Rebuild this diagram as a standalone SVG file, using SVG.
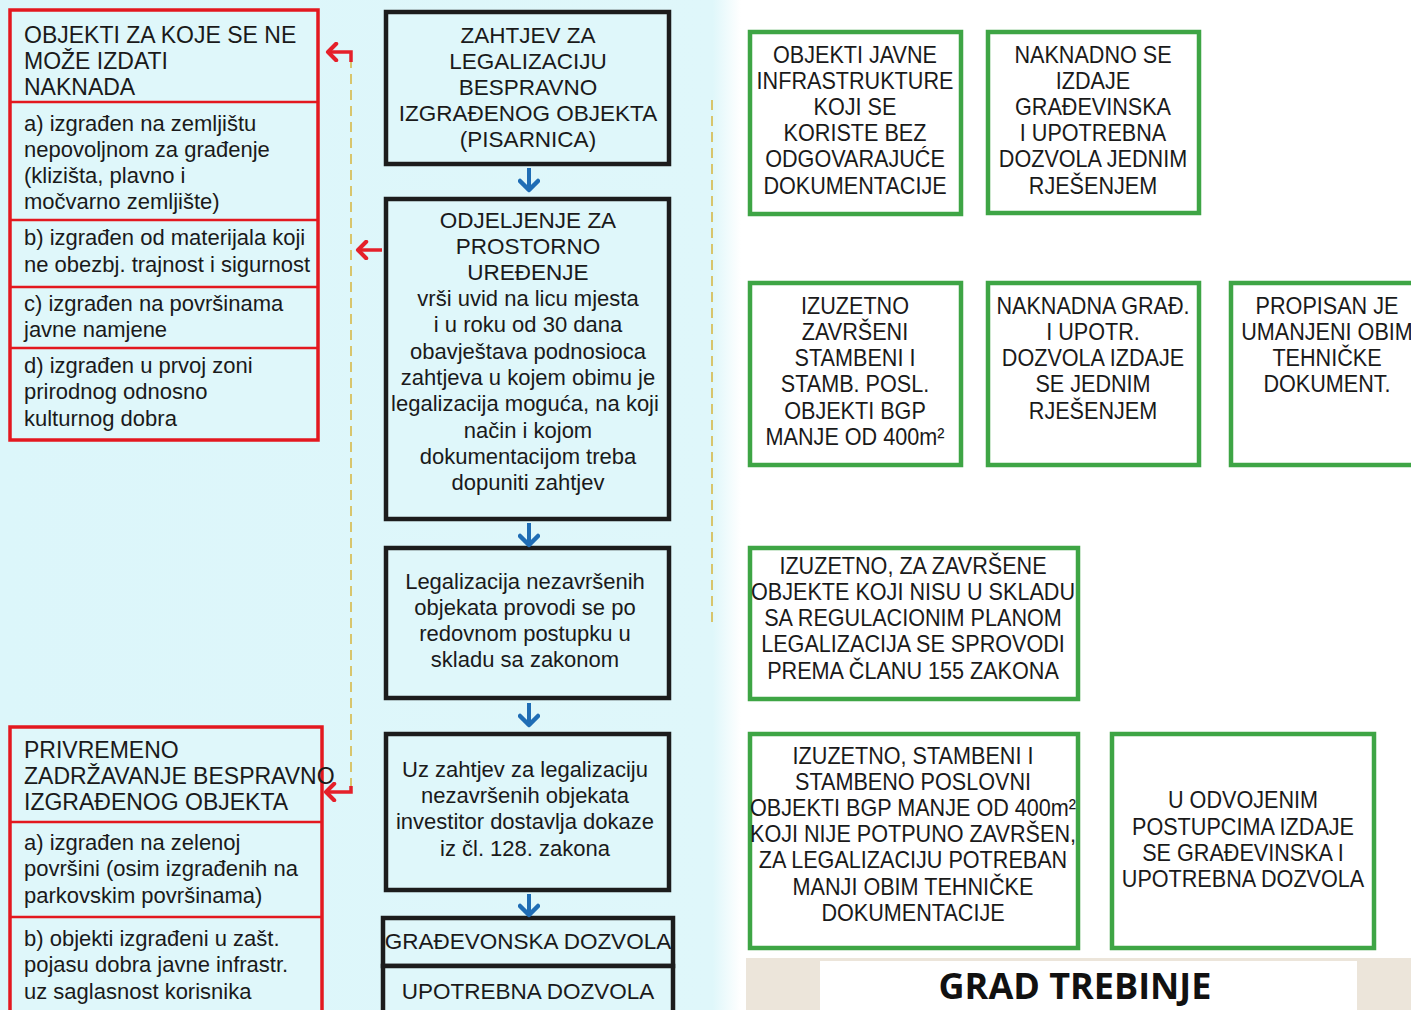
<svg xmlns="http://www.w3.org/2000/svg" width="1411" height="1010" viewBox="0 0 1411 1010">
<defs>
<linearGradient id="bgGrad" x1="0" y1="0" x2="1411" y2="0" gradientUnits="userSpaceOnUse">
<stop offset="0" stop-color="#dcf6fa"/>
<stop offset="0.505" stop-color="#dff7fa"/>
<stop offset="0.525" stop-color="#ffffff"/>
<stop offset="1" stop-color="#ffffff"/>
</linearGradient>
<marker id="blueHead" viewBox="0 0 22 22" refX="19" refY="11" markerWidth="22" markerHeight="22" markerUnits="userSpaceOnUse" orient="auto">
<path d="M10,2 L19,11 L10,20" fill="none" stroke="#1f6db5" stroke-width="4.5" stroke-linecap="round" stroke-linejoin="round"/>
</marker>
<marker id="redHead" viewBox="0 0 22 22" refX="19" refY="11" markerWidth="20" markerHeight="20" markerUnits="userSpaceOnUse" orient="auto">
<path d="M10,2 L19,11 L10,20" fill="none" stroke="#e5202a" stroke-width="4.5" stroke-linecap="round" stroke-linejoin="round"/>
</marker>
</defs>
<style>
.t{font-family:"Liberation Sans",Arial,sans-serif;font-size:22px;fill:#1a1a1a}
.c{text-anchor:middle}
.rbox{fill:#dff7fa;stroke:#e3181f;stroke-width:3.5}
.rdiv{stroke:#e3181f;stroke-width:2.5}
.bbox{fill:#dff7fa;stroke:#1c1c1c;stroke-width:4.5}
.gbox{fill:#ffffff;stroke:#3ea545;stroke-width:4.5}
.gt{font-family:"Liberation Sans",Arial,sans-serif;font-size:24px;fill:#1a1a1a;text-anchor:middle}
.blue{stroke:#1f6db5;stroke-width:4;fill:none;marker-end:url(#blueHead)}
.red{stroke:#e5202a;stroke-width:3.5;fill:none;marker-end:url(#redHead)}
.dash{stroke:#d8c56c;stroke-width:2;stroke-dasharray:10 6;fill:none}
</style>

<rect x="0" y="0" width="1411" height="1010" fill="url(#bgGrad)"/>

<!-- Left top red box -->
<g id="node-objekti-ne-moze">
<rect class="rbox" x="10" y="10" width="308" height="430"/>
<line class="rdiv" x1="10" y1="102" x2="318" y2="102"/>
<line class="rdiv" x1="10" y1="220" x2="318" y2="220"/>
<line class="rdiv" x1="10" y1="287" x2="318" y2="287"/>
<line class="rdiv" x1="10" y1="348" x2="318" y2="348"/>
<text class="t" x="24" y="43" style="font-size:23px">OBJEKTI ZA KOJE SE NE</text>
<text class="t" x="24" y="69" style="font-size:23px">MOŽE IZDATI</text>
<text class="t" x="24" y="95" style="font-size:23px">NAKNADA</text>
<text class="t" x="24" y="131">a) izgrađen na zemljištu</text>
<text class="t" x="24" y="157">nepovoljnom za građenje</text>
<text class="t" x="24" y="183">(klizišta, plavno i</text>
<text class="t" x="24" y="209">močvarno zemljište)</text>
<text class="t" x="24" y="245">b) izgrađen od materijala koji</text>
<text class="t" x="24" y="272">ne obezbj. trajnost i sigurnost</text>
<text class="t" x="24" y="311">c) izgrađen na površinama</text>
<text class="t" x="24" y="337">javne namjene</text>
<text class="t" x="24" y="373">d) izgrađen u prvoj zoni</text>
<text class="t" x="24" y="399">prirodnog odnosno</text>
<text class="t" x="24" y="426">kulturnog dobra</text>
</g>

<!-- Left bottom red box -->
<g id="node-privremeno">
<rect class="rbox" x="10" y="727" width="312" height="290"/>
<line class="rdiv" x1="10" y1="822" x2="322" y2="822"/>
<line class="rdiv" x1="10" y1="917" x2="322" y2="917"/>
<text class="t" x="24" y="758" style="font-size:23px">PRIVREMENO</text>
<text class="t" x="24" y="784" style="font-size:23px">ZADRŽAVANJE BESPRAVNO</text>
<text class="t" x="24" y="810" style="font-size:23px">IZGRAĐENOG OBJEKTA</text>
<text class="t" x="24" y="850">a) izgrađen na zelenoj</text>
<text class="t" x="24" y="876">površini (osim izgrađenih na</text>
<text class="t" x="24" y="903">parkovskim površinama)</text>
<text class="t" x="24" y="946">b) objekti izgrađeni u zašt.</text>
<text class="t" x="24" y="972">pojasu dobra javne infrastr.</text>
<text class="t" x="24" y="999">uz saglasnost korisnika</text>
</g>

<!-- Center column -->
<g id="node-zahtjev">
<rect class="bbox" x="386" y="12" width="283" height="152"/>
<text class="t c" x="528" y="43" style="font-size:22.5px">ZAHTJEV ZA</text>
<text class="t c" x="528" y="69" style="font-size:22.5px">LEGALIZACIJU</text>
<text class="t c" x="528" y="95" style="font-size:22.5px">BESPRAVNO</text>
<text class="t c" x="528" y="121" style="font-size:22.5px">IZGRAĐENOG OBJEKTA</text>
<text class="t c" x="528" y="147" style="font-size:22.5px">(PISARNICA)</text>
</g>

<g id="node-odjeljenje">
<rect class="bbox" x="386" y="199" width="283" height="320"/>
<text class="t c" x="528" y="228" style="font-size:22.5px">ODJELJENJE ZA</text>
<text class="t c" x="528" y="254" style="font-size:22.5px">PROSTORNO</text>
<text class="t c" x="528" y="280" style="font-size:22.5px">UREĐENJE</text>
<text class="t c" x="528" y="306">vrši uvid na licu mjesta</text>
<text class="t c" x="528" y="332">i u roku od 30 dana</text>
<text class="t c" x="528" y="359">obavještava podnosioca</text>
<text class="t c" x="528" y="385">zahtjeva u kojem obimu je</text>
<text class="t c" x="525" y="411">legalizacija moguća, na koji</text>
<text class="t c" x="528" y="438">način i kojom</text>
<text class="t c" x="528" y="464">dokumentacijom treba</text>
<text class="t c" x="528" y="490">dopuniti zahtjev</text>
</g>

<g id="node-nezavrseni">
<rect class="bbox" x="386" y="548" width="283" height="150"/>
<text class="t c" x="525" y="589">Legalizacija nezavršenih</text>
<text class="t c" x="525" y="615">objekata provodi se po</text>
<text class="t c" x="525" y="641">redovnom postupku u</text>
<text class="t c" x="525" y="667">skladu sa zakonom</text>
</g>

<g id="node-uz-zahtjev">
<rect class="bbox" x="386" y="734" width="283" height="156"/>
<text class="t c" x="525" y="777">Uz zahtjev za legalizaciju</text>
<text class="t c" x="525" y="803">nezavršenih objekata</text>
<text class="t c" x="525" y="829">investitor dostavlja dokaze</text>
<text class="t c" x="525" y="856">iz čl. 128. zakona</text>
</g>

<g id="node-dozvole">
<rect class="bbox" x="383" y="918" width="290" height="48"/>
<rect class="bbox" x="383" y="966" width="290" height="52"/>
<text class="t c" x="528" y="949" style="font-size:22.5px">GRAĐEVONSKA DOZVOLA</text>
<text class="t c" x="528" y="999" style="font-size:22.5px">UPOTREBNA DOZVOLA</text>
</g>

<!-- Right side green boxes -->
<g id="node-javne-infrastrukture">
<rect class="gbox" x="750" y="32" width="211" height="182"/>
<g transform="translate(855,0) scale(0.9,1)">
<text class="gt" x="0" y="63">OBJEKTI JAVNE</text>
<text class="gt" x="0" y="89">INFRASTRUKTURE</text>
<text class="gt" x="0" y="115">KOJI SE</text>
<text class="gt" x="0" y="141">KORISTE BEZ</text>
<text class="gt" x="0" y="167">ODGOVARAJUĆE</text>
<text class="gt" x="0" y="194">DOKUMENTACIJE</text>
</g>
</g>

<g id="node-naknadno">
<rect class="gbox" x="988" y="32" width="211" height="181"/>
<g transform="translate(1093,0) scale(0.9,1)">
<text class="gt" x="0" y="63">NAKNADNO SE</text>
<text class="gt" x="0" y="89">IZDAJE</text>
<text class="gt" x="0" y="115">GRAĐEVINSKA</text>
<text class="gt" x="0" y="141">I UPOTREBNA</text>
<text class="gt" x="0" y="167">DOZVOLA JEDNIM</text>
<text class="gt" x="0" y="194">RJEŠENJEM</text>
</g>
</g>

<g id="node-izuzetno-zavrseni">
<rect class="gbox" x="750" y="283" width="211" height="182"/>
<g transform="translate(855,0) scale(0.9,1)">
<text class="gt" x="0" y="314">IZUZETNO</text>
<text class="gt" x="0" y="340">ZAVRŠENI</text>
<text class="gt" x="0" y="366">STAMBENI I</text>
<text class="gt" x="0" y="392">STAMB. POSL.</text>
<text class="gt" x="0" y="419">OBJEKTI BGP</text>
<text class="gt" x="0" y="445">MANJE OD 400m²</text>
</g>
</g>

<g id="node-naknadna-grad">
<rect class="gbox" x="988" y="283" width="211" height="182"/>
<g transform="translate(1093,0) scale(0.9,1)">
<text class="gt" x="0" y="314">NAKNADNA GRAĐ.</text>
<text class="gt" x="0" y="340">I UPOTR.</text>
<text class="gt" x="0" y="366">DOZVOLA IZDAJE</text>
<text class="gt" x="0" y="392">SE JEDNIM</text>
<text class="gt" x="0" y="419">RJEŠENJEM</text>
</g>
</g>

<g id="node-propisan">
<rect class="gbox" x="1231" y="283" width="200" height="182"/>
<g transform="translate(1327,0) scale(0.9,1)">
<text class="gt" x="0" y="314">PROPISAN JE</text>
<text class="gt" x="0" y="340">UMANJENI OBIM</text>
<text class="gt" x="0" y="366">TEHNIČKE</text>
<text class="gt" x="0" y="392">DOKUMENT.</text>
</g>
</g>

<g id="node-clan-155">
<rect class="gbox" x="750" y="548" width="328" height="151"/>
<g transform="translate(913,0) scale(0.9,1)">
<text class="gt" x="0" y="574">IZUZETNO, ZA ZAVRŠENE</text>
<text class="gt" x="0" y="600">OBJEKTE KOJI NISU U SKLADU</text>
<text class="gt" x="0" y="626">SA REGULACIONIM PLANOM</text>
<text class="gt" x="0" y="652">LEGALIZACIJA SE SPROVODI</text>
<text class="gt" x="0" y="679">PREMA ČLANU 155 ZAKONA</text>
</g>
</g>

<g id="node-stambeni-nezavrsen">
<rect class="gbox" x="750" y="734" width="328" height="214"/>
<g transform="translate(913,0) scale(0.9,1)">
<text class="gt" x="0" y="764">IZUZETNO, STAMBENI I</text>
<text class="gt" x="0" y="790">STAMBENO POSLOVNI</text>
<text class="gt" x="0" y="816">OBJEKTI BGP MANJE OD 400m²</text>
<text class="gt" x="0" y="842">KOJI NIJE POTPUNO ZAVRŠEN,</text>
<text class="gt" x="0" y="868">ZA LEGALIZACIJU POTREBAN</text>
<text class="gt" x="0" y="895">MANJI OBIM TEHNIČKE</text>
<text class="gt" x="0" y="921">DOKUMENTACIJE</text>
</g>
</g>

<g id="node-odvojeni">
<rect class="gbox" x="1112" y="734" width="262" height="214"/>
<g transform="translate(1243,0) scale(0.9,1)">
<text class="gt" x="0" y="808">U ODVOJENIM</text>
<text class="gt" x="0" y="835">POSTUPCIMA IZDAJE</text>
<text class="gt" x="0" y="861">SE GRAĐEVINSKA I</text>
<text class="gt" x="0" y="887">UPOTREBNA DOZVOLA</text>
</g>
</g>

<!-- Footer banner -->
<g id="footer">
<rect x="746" y="958" width="665" height="52" fill="#ece5da"/>
<rect x="820" y="961" width="537" height="49" fill="#ffffff"/>
<text x="1075" y="999" text-anchor="middle" style="font-family:'Open Sans','Liberation Sans',sans-serif;font-weight:700;font-size:36px;fill:#111">GRAD TREBINJE</text>
</g>

<!-- Connectors -->
<g id="connectors">
<line class="dash" x1="351" y1="58" x2="351" y2="788"/>
<line class="dash" x1="712" y1="100" x2="712" y2="622"/>
<path class="blue" d="M529,168 L529,190"/>
<path class="blue" d="M529,523 L529,545"/>
<path class="blue" d="M529,703 L529,725"/>
<path class="blue" d="M529,894 L529,915"/>
<path class="red" d="M351,62 L351,52 L328,52"/>
<path class="red" d="M382,250 L358,250"/>
<path class="red" d="M351,786 L351,792 L326,792"/>
</g>
</svg>
